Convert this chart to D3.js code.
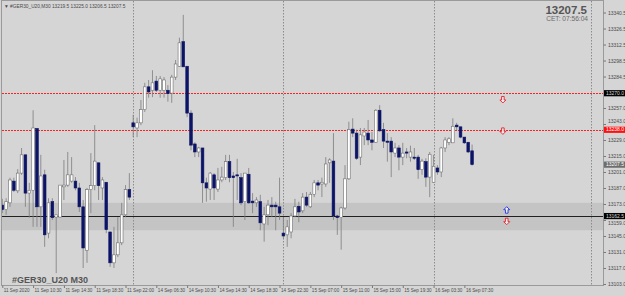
<!DOCTYPE html>
<html>
<head>
<meta charset="utf-8">
<script src="https://cdn.jsdelivr.net/npm/d3@7"></script>
<style>
  html, body { margin: 0; padding: 0; background: #d5d5d5; overflow: hidden; }
  text { font-family: "Liberation Sans", Arial, sans-serif; }
</style>
</head>
<body>
<div id="wrapper"></div>
<script>
// GER30 M30 candles (one entry per bar)
const opens = [13172,13168,13174,13193,13184.5,13200,13216,13182.5,13185,13239,13170.5,13198.5,13147.5,13175,13161.5,13161.5,13188,13189.5,13193,13193,
  13187,13170.5,13132.5,13185.5,13189,13209,13187,13192,13148.5,13121.5,13128.5,13139,13163.5,13185.5,13244,13239.5,13244,13255.5,13275.5,13272.5,
  13280.5,13272.5,13272.5,13272.5,13270,13284,13293.5,13315,13293.5,13252.5,13225.5,13218.5,13222,13191.5,13186,13198.5,13186,13194,13196,13210,
  13197.5,13198.5,13196,13175,13199,13175.5,13174,13175,13155.5,13163.5,13172,13172,13170.5,13147.5,13146,13148.5,13162.5,13171,13167,13179,
  13170.5,13181.5,13191.5,13190.5,13190.5,13209,13210.5,13162.5,13161,13169.5,13195,13238.5,13235,13214,13232.5,13235,13229,13227,13255,13238,
  13228,13228,13217.5,13222,13214,13218.5,13214,13214,13214,13203,13210,13196.5,13192,13204.5,13201,13222,13227,13226.5,13242,13240.5,
  13231.5,13227,13219.5];
const highs = [13177.5,13178,13196,13196,13203.5,13222,13216,13191.5,13255,13239.5,13216,13203,13178,13178,13163.5,13189.5,13211.5,13218.5,13214,13196.5,
  13191.5,13176.5,13187,13217.5,13242,13209,13196.5,13192,13148.5,13153,13161.5,13174,13189.5,13200,13251,13248.5,13264,13279,13281.5,13290,
  13285,13285,13284,13277,13286,13299,13318.5,13338.5,13293.5,13255,13227,13223,13222,13196,13201,13200,13204.5,13205.5,13216,13216,
  13201,13212.5,13200,13200,13204.5,13182.5,13179,13181,13170.5,13176.5,13179,13175,13196,13161.5,13159,13165,13177.5,13175,13182.5,13183.5,
  13183.5,13194,13194,13196,13214,13213,13235,13163.5,13170.5,13207,13245,13248,13238,13239.5,13239.5,13246.5,13236,13256,13259.5,13244,
  13235,13231.5,13226.5,13224.5,13226.5,13222,13224,13222,13216,13212.5,13213,13218.5,13216,13207,13223,13231.5,13231.5,13248,13244,13240.5,
  13231.5,13227,13225];
const lows = [13165,13163.5,13170.5,13183.5,13182.5,13198.5,13170.5,13161,13153,13153,13153,13135.5,13143,13159,13112.5,13161,13176.5,13188,13191.5,13185,
  13166,13117,13121.5,13165,13185,13176.5,13176.5,13147.5,13118,13117,13126.5,13137,13161.5,13176.5,13231.5,13231.5,13242,13253.5,13266,13266.5,
  13271,13266,13266,13262.5,13261.5,13281.5,13293,13293,13249,13220,13214,13214,13174,13175,13176.5,13176.5,13183.5,13192,13194,13192,
  13153,13176.5,13172,13159,13173,13165,13170.5,13150,13140,13154.5,13161.5,13150,13159,13143,13135.5,13143,13161.5,13157,13165,13170.5,
  13169.5,13179,13185,13179,13188,13191.5,13159,13146,13133,13168,13194,13231.5,13211.5,13207,13224.5,13224.5,13220,13226.5,13236,13222,
  13210,13196.5,13214,13202.5,13207,13213,13210,13211.5,13195,13198.5,13188,13179,13191.5,13198.5,13196.5,13218.5,13224.5,13226.5,13237.5,13230.5,
  13225.5,13217.5,13206.5];
const closes = [13168,13175,13194,13185,13200,13216,13182.5,13185,13239.5,13170.5,13197.5,13146,13174,13161,13163.5,13189.5,13189.5,13198.5,13198.5,13187,
  13170.5,13134.5,13185.5,13189,13210.5,13189,13194,13150.5,13121.5,13128.5,13139,13163.5,13185.5,13179,13240.5,13244,13255.5,13275.5,13271,13279,
  13272.5,13282.5,13281.5,13269.5,13284,13295.5,13314,13293,13252.5,13224.5,13218.5,13222,13191.5,13187,13200,13187,13194,13196.5,13210,13196,
  13196,13197.5,13174,13200,13174,13174,13176.5,13156.5,13163.5,13172,13170.5,13170.5,13165,13145,13153,13162.5,13170.5,13166,13179,13172,
  13181.5,13191.5,13189.5,13192,13208,13211.5,13162.5,13161,13169.5,13195,13238,13235,13213,13233.5,13236,13229,13227,13255,13237,13228,
  13227,13218.5,13222,13214,13217.5,13217.5,13218.5,13213,13203,13210.5,13196.5,13216.5,13206,13201,13222,13229,13230,13241,13240.5,13231.5,
  13226.5,13218.5,13207.5];

// time axis: a label every 8 bars
const timeTickBars = [0,8,16,24,32,40,48,56,64,72,80,88,96,104,112,120];
const timeTickLabels = ["11 Sep 2020","11 Sep 10:30","11 Sep 14:30","11 Sep 18:30","11 Sep 22:00","14 Sep 06:30","14 Sep 10:30","14 Sep 14:30",
  "14 Sep 18:30","14 Sep 22:30","15 Sep 07:00","15 Sep 11:00","15 Sep 15:00","15 Sep 19:30","16 Sep 03:30","16 Sep 07:30"];
const separatorBars = [34, 73, 112, 153];

// price axis
const priceTicks = [13340.5,13326.5,13312.5,13298.5,13284.5,13257,13243,13229,13215,13201,13187,13173,13159,13145,13131,13117,13103];

// objects drawn on the chart
const redLevels = [13270, 13238];
const supportLevel = 13162.5;
const zone = [13150, 13174];
const lastPrice = 13207.5;
const arrows = [
  { bar: 130, price: 13264, dir: "down", color: "#e8202a" },
  { bar: 130, price: 13236.5, dir: "down", color: "#e8202a" },
  { bar: 131, price: 13168, dir: "up", color: "#2030e0" },
  { bar: 131, price: 13157.5, dir: "down", color: "#e8202a" },
];
const tags = [
  { price: 13270, text: "13270.0", bg: "#000000", fg: "#d8d8d8" },
  { price: 13238, text: "13238.0", bg: "#ff1010", fg: "#ffffff" },
  { price: 13207.5, text: "13207.5", bg: "#6e6e6e", fg: "#ffffff" },
  { price: 13162.5, text: "13162.5", bg: "#000000", fg: "#d8d8d8" },
];

function drawChart() {
  const dimensions = {
    width: 625,
    height: 296,
    plot: { left: 2, top: 1, right: 603, bottom: 285 },
  };
  const p = dimensions.plot;

  const svg = d3.select("#wrapper").append("svg")
    .attr("width", dimensions.width)
    .attr("height", dimensions.height);

  svg.append("rect")
    .attr("width", dimensions.width).attr("height", dimensions.height)
    .attr("fill", "#d5d5d5");

  // bar index -> x, price -> y
  const xScale = d3.scaleLinear().domain([0, 156]).range([p.left + 0.3, p.right]);
  const yScale = d3.scaleLinear().domain([13102.1, 13350.6]).range([p.bottom, p.top]);

  const bars = d3.range(opens.length).map(i => ({
    i, o: opens[i], h: highs[i], l: lows[i], c: closes[i]
  }));

  svg.append("clipPath").attr("id", "plotclip")
    .append("rect")
    .attr("x", p.left).attr("y", p.top)
    .attr("width", p.right - p.left).attr("height", p.bottom - p.top);

  const bounds = svg.append("g").attr("clip-path", "url(#plotclip)");

  // grey zone
  bounds.append("rect")
    .attr("x", p.left).attr("width", p.right - p.left)
    .attr("y", yScale(zone[1]))
    .attr("height", yScale(zone[0]) - yScale(zone[1]))
    .attr("fill", "#c4c4c4");

  // vertical separators
  bounds.selectAll(".sep").data(separatorBars).join("line")
    .attr("x1", d => Math.round(xScale(d)) + 0.5).attr("x2", d => Math.round(xScale(d)) + 0.5)
    .attr("y1", p.top).attr("y2", p.bottom)
    .attr("stroke", "#8c8c8c").attr("stroke-width", 1)
    .attr("stroke-dasharray", "1.5,1.5");

  // red dotted levels
  bounds.selectAll(".lvl").data(redLevels).join("line")
    .attr("x1", p.left).attr("x2", p.right)
    .attr("y1", d => Math.round(yScale(d)) + 0.5).attr("y2", d => Math.round(yScale(d)) + 0.5)
    .attr("stroke", "#f42424").attr("stroke-width", 1)
    .attr("stroke-dasharray", "2,1");

  // support line
  bounds.append("line")
    .attr("x1", p.left).attr("x2", p.right)
    .attr("y1", Math.round(yScale(supportLevel)) + 0.5).attr("y2", Math.round(yScale(supportLevel)) + 0.5)
    .attr("stroke", "#202020").attr("stroke-width", 1.1);

  // wicks
  bounds.selectAll(".wick").data(bars).join("line")
    .attr("x1", d => xScale(d.i)).attr("x2", d => xScale(d.i))
    .attr("y1", d => yScale(d.h)).attr("y2", d => yScale(d.l))
    .attr("stroke", "#7c7c7c").attr("stroke-width", 0.8);

  // bodies
  const bodyW = 2.7;
  bounds.selectAll(".body").data(bars).join("rect")
    .attr("x", d => xScale(d.i) - bodyW / 2)
    .attr("width", bodyW)
    .attr("y", d => yScale(Math.max(d.o, d.c)))
    .attr("height", d => Math.max(1, Math.abs(yScale(d.o) - yScale(d.c))))
    .attr("fill", d => d.c >= d.o ? "#ffffff" : "#0c1466")
    .attr("stroke", d => d.c >= d.o ? "#707070" : "#0c1466")
    .attr("stroke-width", 0.6);

  // hollow arrows (shaft + head), tip at the price
  const arrowPath = (x, y, dir) => {
    const s = dir === "up" ? -1 : 1;
    const tip = y + 3 * s, base = y - 3.5 * s, neck = y;
    return `M${x - 1.3},${base} L${x + 1.3},${base} L${x + 1.3},${neck} L${x + 3},${neck} ` +
      `L${x},${tip} L${x - 3},${neck} L${x - 1.3},${neck} Z`;
  };
  bounds.selectAll(".arrow").data(arrows).join("path")
    .attr("d", d => arrowPath(xScale(d.bar), yScale(d.price), d.dir))
    .attr("fill", "#eeeeee")
    .attr("stroke", d => d.color)
    .attr("stroke-width", 0.9);

  // frame
  svg.append("rect")
    .attr("x", p.left - 0.5).attr("y", p.top - 0.5)
    .attr("width", p.right - p.left + 1).attr("height", p.bottom - p.top + 1)
    .attr("fill", "none").attr("stroke", "#9a9a9a").attr("stroke-width", 1);

  // price axis
  const yAxis = d3.axisRight(yScale)
    .tickValues(priceTicks)
    .tickFormat(d => d.toFixed(1))
    .tickSize(2.5)
    .tickPadding(2);
  const yAxisG = svg.append("g")
    .attr("transform", `translate(${p.right + 0.5},0)`)
    .call(yAxis);
  yAxisG.select(".domain").remove();
  yAxisG.selectAll("line").attr("stroke", "#777");
  // labels crowding a tag are nudged away from it
  yAxisG.selectAll("text")
    .attr("fill", "#4a4a4a").style("font-size", "5px")
    .attr("dy", d => {
      const near = tags.find(t => Math.abs(yScale(t.price) - yScale(d)) < 7);
      if (!near) return "0.32em";
      return yScale(d) > yScale(near.price) ? "0.95em" : "-0.2em";
    });

  // price tags
  const tagG = svg.append("g");
  tags.forEach(t => {
    const y = yScale(t.price);
    tagG.append("rect")
      .attr("x", p.right + 1).attr("y", y - 3)
      .attr("width", 21).attr("height", 6.2)
      .attr("fill", t.bg);
    tagG.append("text")
      .attr("x", p.right + 3).attr("y", y + 1.8)
      .attr("fill", t.fg).style("font-size", "5px")
      .text(t.text);
  });

  // time axis
  const xAxis = d3.axisBottom(xScale)
    .tickValues(timeTickBars)
    .tickFormat((d, i) => timeTickLabels[i])
    .tickSize(2.5)
    .tickPadding(1);
  const xAxisG = svg.append("g")
    .attr("transform", `translate(0,${p.bottom + 0.5})`)
    .call(xAxis);
  xAxisG.select(".domain").remove();
  xAxisG.selectAll("line").attr("stroke", "#777");
  xAxisG.selectAll("text")
    .attr("text-anchor", "start")
    .attr("dx", 1)
    .attr("fill", "#4a4a4a").style("font-size", "4.6px");

  // header texts
  svg.append("text")
    .attr("x", 4).attr("y", 7.5)
    .attr("fill", "#4a4a4a").style("font-size", "4.8px")
    .text("\u25BC #GER30_U20,M30  13219.5 13225.0 13206.5 13207.5");

  svg.append("text")
    .attr("x", 587).attr("y", 14)
    .attr("text-anchor", "end")
    .attr("fill", "#565656")
    .style("font-size", "11.5px").style("font-weight", "bold")
    .text(lastPrice.toFixed(1));

  svg.append("text")
    .attr("x", 588).attr("y", 20.5)
    .attr("text-anchor", "end")
    .attr("fill", "#6a6a6a")
    .style("font-size", "6.6px")
    .text("CET:  07:56:04");

  svg.append("text")
    .attr("x", 12).attr("y", 283)
    .attr("fill", "#555555")
    .style("font-size", "9px").style("font-weight", "bold")
    .text("#GER30_U20 M30");
}

drawChart();
</script>
</body>
</html>
